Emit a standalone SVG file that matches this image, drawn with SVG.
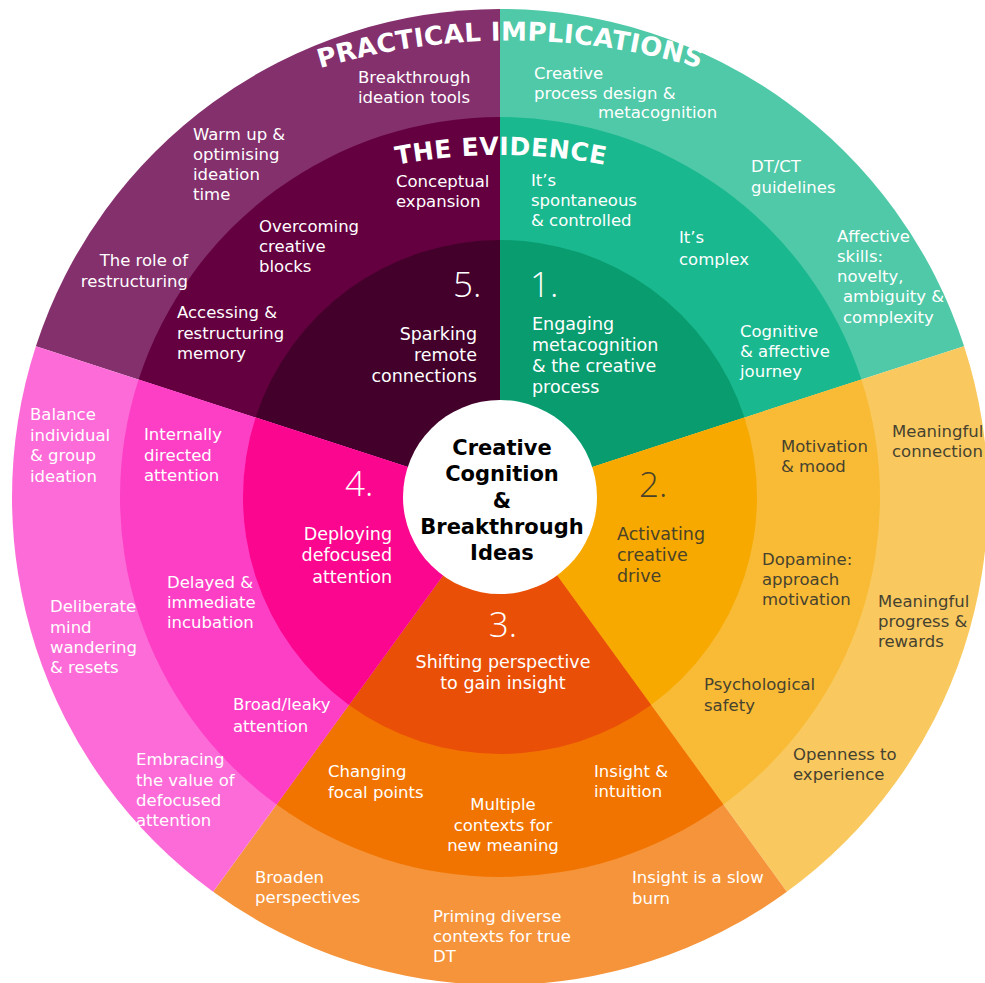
<svg xmlns="http://www.w3.org/2000/svg" width="985" height="983" viewBox="0 0 985 983">
  <defs>
    <style>
      text { font-family: "DejaVu Sans", "Open Sans", sans-serif; }
      .t { font-size: 16.5px; fill: #ffffff; }
      .d { fill: #46422f; }
      .m { font-size: 17.5px; fill: #ffffff; }
      .md { font-size: 17.5px; fill: #4a4229; }
      .n { font-family: "Open Sans", "DejaVu Sans", sans-serif; font-size: 35px; font-weight: 300; fill: #ffffff; }
      .nd { font-family: "Open Sans", "DejaVu Sans", sans-serif; font-size: 35px; font-weight: 300; fill: #4a4229; }
      .hd { font-family: "DejaVu Sans", sans-serif; font-weight: bold; fill: #ffffff; }
      .c { font-family: "DejaVu Sans", sans-serif; font-weight: bold; font-size: 21px; fill: #000000; text-anchor: middle; }
      .e { text-anchor: end; }
      .mid { text-anchor: middle; }
    </style>
    <!-- arcs that carry the two ring titles -->
    <path id="arcOuter" d="M210,112.6 A660,660 0 0 1 810,112.6"/>
    <path id="arcMiddle" d="M301,192.6 A550,550 0 0 1 701,192.6"/>
  </defs>

  <rect width="985" height="983" fill="#ffffff"/>

  <!-- 5. Sparking remote connections (purple) -->
  <g id="segment-5">
    <path d="M500,497 L35.89,346.20 A488,488 0 0 1 500,9 Z" fill="#84306d"/>
    <path d="M500,497 L138.60,379.57 A380,380 0 0 1 500,117 Z" fill="#650040"/>
    <path d="M500,497 L255.58,417.58 A257,257 0 0 1 500,240 Z" fill="#43002b"/>
    <text class="t"><tspan x="358" y="83">Breakthrough</tspan><tspan x="358" y="103">ideation tools</tspan></text>
    <text class="t"><tspan x="193" y="140">Warm up &amp;</tspan><tspan x="193" y="160">optimising</tspan><tspan x="193" y="180">ideation</tspan><tspan x="193" y="200">time</tspan></text>
    <text class="t e"><tspan x="188" y="266">The role of</tspan><tspan x="188" y="287">restructuring</tspan></text>
    <text class="t"><tspan x="396" y="187">Conceptual</tspan><tspan x="396" y="207">expansion</tspan></text>
    <text class="t"><tspan x="259" y="232">Overcoming</tspan><tspan x="259" y="252">creative</tspan><tspan x="259" y="272">blocks</tspan></text>
    <text class="t"><tspan x="177" y="318">Accessing &amp;</tspan><tspan x="177" y="339">restructuring</tspan><tspan x="177" y="359">memory</tspan></text>
    <text class="n" x="453" y="297">5.</text>
    <text class="m e"><tspan x="477" y="340">Sparking</tspan><tspan x="477" y="361">remote</tspan><tspan x="477" y="382">connections</tspan></text>
  </g>

  <!-- 1. Engaging metacognition (green) -->
  <g id="segment-1">
    <path d="M500,497 L500,9 A488,488 0 0 1 964.11,346.20 Z" fill="#4fc9a8"/>
    <path d="M500,497 L500,117 A380,380 0 0 1 861.40,379.57 Z" fill="#19b88f"/>
    <path d="M500,497 L500,240 A257,257 0 0 1 744.42,417.58 Z" fill="#099c6f"/>
    <text class="t"><tspan x="534" y="79">Creative</tspan><tspan x="534" y="99">process design &amp;</tspan><tspan x="598" y="118">metacognition</tspan></text>
    <text class="t"><tspan x="751" y="172">DT/CT</tspan><tspan x="751" y="193">guidelines</tspan></text>
    <text class="t"><tspan x="837" y="242">Affective</tspan><tspan x="837" y="262">skills:</tspan><tspan x="837" y="282">novelty,</tspan><tspan x="843" y="302">ambiguity &amp;</tspan><tspan x="843" y="323">complexity</tspan></text>
    <text class="t"><tspan x="531" y="186">It’s</tspan><tspan x="531" y="206">spontaneous</tspan><tspan x="531" y="226">&amp; controlled</tspan></text>
    <text class="t"><tspan x="679" y="243">It’s</tspan><tspan x="679" y="265">complex</tspan></text>
    <text class="t"><tspan x="740" y="337">Cognitive</tspan><tspan x="740" y="357">&amp; affective</tspan><tspan x="740" y="377">journey</tspan></text>
    <text class="n" x="530" y="297">1.</text>
    <text class="m"><tspan x="532" y="330">Engaging</tspan><tspan x="532" y="351">metacognition</tspan><tspan x="532" y="372">&amp; the creative</tspan><tspan x="532" y="393">process</tspan></text>
  </g>

  <!-- 2. Activating creative drive (yellow) -->
  <g id="segment-2">
    <path d="M500,497 L964.11,346.20 A488,488 0 0 1 786.84,891.80 Z" fill="#f9c95f"/>
    <path d="M500,497 L861.40,379.57 A380,380 0 0 1 723.36,804.43 Z" fill="#f9bb35"/>
    <path d="M500,497 L744.42,417.58 A257,257 0 0 1 651.06,704.92 Z" fill="#f7a900"/>
    <text class="t d"><tspan x="892" y="437">Meaningful</tspan><tspan x="892" y="457">connection</tspan></text>
    <text class="t d"><tspan x="878" y="607">Meaningful</tspan><tspan x="878" y="627">progress &amp;</tspan><tspan x="878" y="647">rewards</tspan></text>
    <text class="t d"><tspan x="793" y="760">Openness to</tspan><tspan x="793" y="780">experience</tspan></text>
    <text class="t d"><tspan x="781" y="452">Motivation</tspan><tspan x="781" y="472">&amp; mood</tspan></text>
    <text class="t d"><tspan x="762" y="565">Dopamine:</tspan><tspan x="762" y="585">approach</tspan><tspan x="762" y="605">motivation</tspan></text>
    <text class="t d"><tspan x="704" y="690">Psychological</tspan><tspan x="704" y="711">safety</tspan></text>
    <text class="nd" x="639" y="497">2.</text>
    <text class="md"><tspan x="617" y="540">Activating</tspan><tspan x="617" y="561">creative</tspan><tspan x="617" y="582">drive</tspan></text>
  </g>

  <!-- 3. Shifting perspective (orange) -->
  <g id="segment-3">
    <path d="M500,497 L786.84,891.80 A488,488 0 0 1 213.16,891.80 Z" fill="#f5943a"/>
    <path d="M500,497 L723.36,804.43 A380,380 0 0 1 276.64,804.43 Z" fill="#f27400"/>
    <path d="M500,497 L651.06,704.92 A257,257 0 0 1 348.94,704.92 Z" fill="#ea4f08"/>
    <text class="t"><tspan x="255" y="883">Broaden</tspan><tspan x="255" y="903">perspectives</tspan></text>
    <text class="t"><tspan x="433" y="922">Priming diverse</tspan><tspan x="433" y="942">contexts for true</tspan><tspan x="433" y="962">DT</tspan></text>
    <text class="t"><tspan x="632" y="883">Insight is a slow</tspan><tspan x="632" y="904">burn</tspan></text>
    <text class="t"><tspan x="328" y="777">Changing</tspan><tspan x="328" y="798">focal points</tspan></text>
    <text class="t mid"><tspan x="503" y="810">Multiple</tspan><tspan x="503" y="831">contexts for</tspan><tspan x="503" y="851">new meaning</tspan></text>
    <text class="t"><tspan x="594" y="777">Insight &amp;</tspan><tspan x="594" y="797">intuition</tspan></text>
    <text class="n mid" x="503" y="637">3.</text>
    <text class="m mid"><tspan x="503" y="668">Shifting perspective</tspan><tspan x="503" y="689">to gain insight</tspan></text>
  </g>

  <!-- 4. Deploying defocused attention (pink) -->
  <g id="segment-4">
    <path d="M500,497 L213.16,891.80 A488,488 0 0 1 35.89,346.20 Z" fill="#fc6bd7"/>
    <path d="M500,497 L276.64,804.43 A380,380 0 0 1 138.60,379.57 Z" fill="#fd3fc6"/>
    <path d="M500,497 L348.94,704.92 A257,257 0 0 1 255.58,417.58 Z" fill="#fb068e"/>
    <text class="t"><tspan x="30" y="420">Balance</tspan><tspan x="30" y="441">individual</tspan><tspan x="30" y="461">&amp; group</tspan><tspan x="30" y="482">ideation</tspan></text>
    <text class="t"><tspan x="50" y="612">Deliberate</tspan><tspan x="50" y="633">mind</tspan><tspan x="50" y="653">wandering</tspan><tspan x="50" y="673">&amp; resets</tspan></text>
    <text class="t"><tspan x="136" y="765">Embracing</tspan><tspan x="136" y="786">the value of</tspan><tspan x="136" y="806">defocused</tspan><tspan x="136" y="826">attention</tspan></text>
    <text class="t"><tspan x="144" y="440">Internally</tspan><tspan x="144" y="461">directed</tspan><tspan x="144" y="481">attention</tspan></text>
    <text class="t"><tspan x="167" y="588">Delayed &amp;</tspan><tspan x="167" y="608">immediate</tspan><tspan x="167" y="628">incubation</tspan></text>
    <text class="t"><tspan x="233" y="710">Broad/leaky</tspan><tspan x="233" y="732">attention</tspan></text>
    <text class="n" x="345" y="496">4.</text>
    <text class="m e"><tspan x="392" y="540">Deploying</tspan><tspan x="392" y="561">defocused</tspan><tspan x="392" y="583">attention</tspan></text>
  </g>

  <!-- ring titles -->
  <g id="ring-titles">
    <text class="hd" font-size="26" letter-spacing="0.3"><textPath href="#arcOuter" startOffset="50%" text-anchor="middle">PRACTICAL IMPLICATIONS</textPath></text>
    <text class="hd" font-size="25" letter-spacing="0.5"><textPath href="#arcMiddle" startOffset="50%" text-anchor="middle">THE EVIDENCE</textPath></text>
  </g>

  <!-- hub -->
  <g id="center">
    <circle cx="500" cy="497" r="97" fill="#ffffff"/>
    <text class="c"><tspan x="502" y="455">Creative</tspan><tspan x="502" y="481">Cognition</tspan><tspan x="502" y="508">&amp;</tspan><tspan x="502" y="534">Breakthrough</tspan><tspan x="502" y="560">Ideas</tspan></text>
  </g>
</svg>
